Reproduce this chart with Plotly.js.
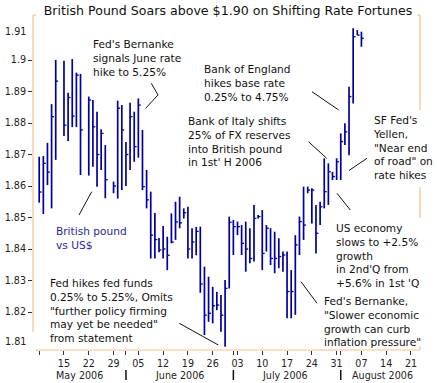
<!DOCTYPE html>
<html><head><meta charset="utf-8">
<script src="https://cdn.plot.ly/plotly-3.0.1.min.js"></script>
<style>html,body{margin:0;padding:0;background:#fff;}#chart{width:437px;height:383px;}</style>
</head><body><div id="chart"></div>
<script>
// ---- data (GBP/USD daily high / low / close) ----
const dates = [
'2006-05-08','2006-05-09','2006-05-10','2006-05-11','2006-05-12',
'2006-05-15','2006-05-16','2006-05-17','2006-05-18','2006-05-19',
'2006-05-22','2006-05-23','2006-05-24','2006-05-25','2006-05-26',
'2006-05-29','2006-05-30','2006-05-31','2006-06-01','2006-06-02',
'2006-06-04','2006-06-05','2006-06-06','2006-06-07','2006-06-08','2006-06-09',
'2006-06-11','2006-06-12','2006-06-13','2006-06-14','2006-06-15','2006-06-16',
'2006-06-18','2006-06-19','2006-06-20','2006-06-21','2006-06-22','2006-06-23',
'2006-06-25','2006-06-26','2006-06-27','2006-06-28','2006-06-29','2006-06-30',
'2006-07-02','2006-07-03','2006-07-04','2006-07-05','2006-07-06','2006-07-07',
'2006-07-09','2006-07-10','2006-07-11','2006-07-12','2006-07-13','2006-07-14',
'2006-07-16','2006-07-17','2006-07-18','2006-07-19','2006-07-20','2006-07-21',
'2006-07-23','2006-07-24','2006-07-25','2006-07-26','2006-07-27','2006-07-28',
'2006-07-30','2006-07-31','2006-08-01','2006-08-02','2006-08-03','2006-08-04',
'2006-08-06','2006-08-07'];
const highs = [
1.8693,1.8695,1.8737,1.8860,1.9000,
1.8998,1.8896,1.9003,1.8960,1.8956,
1.8884,1.8873,1.8836,1.8780,1.8730,
1.8614,1.8871,1.8857,1.8740,1.8864,
1.8836,1.8878,1.8778,1.8651,1.8582,1.8514,
1.8435,1.8473,1.8439,1.8513,1.8550,1.8566,
1.8529,1.8534,1.8466,1.8470,1.8471,1.8344,
1.8312,1.8280,1.8264,1.8254,1.8302,1.8503,
1.8492,1.8487,1.8476,1.8487,1.8466,1.8540,
1.8508,1.8524,1.8476,1.8466,1.8455,1.8434,
1.8392,1.8392,1.8333,1.8444,1.8503,1.8598,
1.8598,1.8593,1.8540,1.8550,1.8688,1.8672,
1.8645,1.8688,1.8767,1.8799,1.8915,1.9101,
1.9095,1.9090];
const lows = [
1.8547,1.8511,1.8603,1.8529,1.8683,
1.8759,1.8743,1.8787,1.8787,1.8635,
1.8633,1.8661,1.8598,1.8651,1.8561,
1.8577,1.8560,1.8587,1.8600,1.8651,
1.8677,1.8690,1.8587,1.8529,1.8370,1.8370,
1.8390,1.8370,1.8333,1.8418,1.8429,1.8466,
1.8497,1.8370,1.8370,1.8380,1.8261,1.8127,
1.8169,1.8164,1.8206,1.8137,1.8090,1.8275,
1.8381,1.8444,1.8381,1.8328,1.8355,1.8360,
1.8497,1.8333,1.8392,1.8349,1.8323,1.8339,
1.8328,1.8180,1.8180,1.8191,1.8381,1.8429,
1.8577,1.8481,1.8386,1.8476,1.8529,1.8540,
1.8619,1.8619,1.8619,1.8730,1.8698,1.8862,
1.9079,1.9042];
const closes = [
1.8581,1.8672,1.8644,1.8820,1.8933,
1.8793,1.8881,1.8822,1.8952,1.8778,
1.8873,1.8788,1.8700,1.8767,1.8620,
1.8600,1.8847,1.8778,1.8700,1.8820,
1.8725,1.8857,1.8598,1.8556,1.8444,1.8430,
1.8397,1.8400,1.8380,1.8422,1.8486,1.8483,
1.8515,1.8400,1.8422,1.8456,1.8289,1.8190,
1.8196,1.8220,1.8222,1.8190,1.8275,1.8485,
1.8471,1.8471,1.8418,1.8400,1.8370,1.8497,
1.8503,1.8386,1.8466,1.8370,1.8370,1.8376,
1.8381,1.8265,1.8265,1.8413,1.8487,1.8476,
1.8587,1.8587,1.8450,1.8534,1.8582,1.8645,
1.8630,1.8677,1.8741,1.8772,1.8884,1.9074,
1.9079,1.9069];

// ---- axis labels ----
const tickDates = ['2006-05-08','2006-05-15','2006-05-22','2006-05-29','2006-06-05','2006-06-12','2006-06-19','2006-06-26',
  '2006-07-03','2006-07-10','2006-07-17','2006-07-24','2006-07-31','2006-08-07','2006-08-14','2006-08-21'];
const tickLabels = ['','15','22','29','05','12','19','26','03','10','17','24','31','07','14','21'];
const monthStarts = ['2006-06-01','2006-07-01','2006-08-01'];
const monthNames = ['May 2006','June 2006','July 2006','August 2006'];
const yTicks = [1.82,1.83,1.84,1.85,1.86,1.87,1.88,1.89,1.90];
const yTickLabels = ['1.82','1.83','1.84','1.85','1.86','1.87','1.88','1.89','1.9'];
const yEdgeValues = [1.91, 1.81];
const yEdgeLabels = ['1.91', '1.81'];

const titleText = 'British Pound Soars above $1.90 on Shifting Rate Fortunes';
const notes = [
  {text:"Fed's Bernanke<br>signals June rate<br>hike to 5.25%", px:91, py:36, color:'#111'},
  {text:"Bank of England<br>hikes base rate<br>0.25% to 4.75%", px:202, py:61, color:'#111'},
  {text:"Bank of Italy shifts<br>25% of FX reserves<br>into British pound<br>in 1st' H 2006", px:185.5, py:113, color:'#111'},
  {text:"SF Fed's<br>Yellen,<br>\"Near end<br>of road\" on<br>rate hikes", px:371, py:112, color:'#111'},
  {text:"US economy<br>slows to +2.5%<br>growth<br>in 2nd'Q from<br>+5.6% in 1st 'Q", px:333.5, py:220, color:'#111'},
  {text:"Fed's Bernanke,<br>\"Slower economic<br>growth can curb<br>inflation pressure\"", px:322, py:293, color:'#111'},
  {text:"British pound<br>vs US$", px:54, py:223, color:'#2b1fa0'},
  {text:"Fed hikes fed funds<br>0.25% to 5.25%, Omits<br>\"further policy firming<br>may yet be needed\"<br>from statement", px:48, py:275, color:'#111'}
];
const pointers = [
  [[151.3,83.3],[158,95],[145.7,108.3]],
  [[312,91.7],[338.7,110]],
  [[308.5,141.7],[326.7,158.3]],
  [[367,158.3],[349,170.5]],
  [[337,193.3],[350.3,210]],
  [[301,281.7],[317,303.3]],
  [[79,215],[91.7,191.7]],
  [[179.3,323.3],[218.3,345]]
];

// ---- layout geometry ----
const W=437,H=383,L=33,R=17,T=15,B=33;
const PW=W-L-R, PH=H-T-B;
const fx = px => (px-L)/PW;
const fy = py => (H-B-py)/PH;
const xRange = ['2006-05-05 12:00','2006-08-23 04:20'];
const yRange = [1.80794, 1.91429];
const BAR = '#0000a0', FRAME = '#f9c18b', FONT = 'DejaVu Sans, Verdana, sans-serif';

// ---- traces ----
const bx=[], by=[], cx=[], cy=[];
dates.forEach((d,i)=>{
  bx.push(d,d,null); by.push(lows[i],highs[i],null);
  cx.push(d,d+' 14:00',null); cy.push(closes[i],closes[i],null);
});
const traces = [
  {type:'scatter',mode:'lines',x:bx,y:by,line:{color:BAR,width:1.7},hoverinfo:'skip',showlegend:false},
  {type:'scatter',mode:'lines',x:cx,y:cy,line:{color:BAR,width:1.3},hoverinfo:'skip',showlegend:false}
];

// month boundaries (Saturday -> following Sunday, Saturdays are removed from the axis)
const monthPos = monthStarts.map(s=>{
  const t = new Date(s+'T00:00:00Z');
  if (t.getUTCDay()===6) t.setUTCDate(t.getUTCDate()+1);
  return t.toISOString().slice(0,10);
});
const allTickVals = tickDates.concat(monthPos);
const allTickText = tickLabels.concat(monthPos.map(()=>''));

const shapes = [];
const frameLine = (x0,y0,x1,y1)=>({type:'line',xref:'paper',yref:'paper',x0,y0,x1,y1,line:{color:FRAME,width:1.2},layer:'above'});
shapes.push(frameLine(0,fy(332),0,1));          // left
shapes.push(frameLine(fx(35),0,1,0));          // bottom
shapes.push(frameLine(1,fy(110),1,1));         // right, top part
shapes.push(frameLine(1,fy(218),1,fy(187)));   // right, middle
shapes.push(frameLine(1,0,1,fy(346)));         // right, bottom stub
shapes.push(frameLine(0,1,fx(36),1));          // top stubs
shapes.push(frameLine(fx(417),1,1,1));
pointers.forEach(p=>{
  const path = p.map((pt,k)=>(k?'L':'M')+fx(pt[0]).toFixed(4)+','+fy(pt[1]).toFixed(4)).join(' ');
  shapes.push({type:'path',xref:'paper',yref:'paper',path,line:{color:'#111',width:1},layer:'above'});
});
monthPos.forEach(m=>{
  shapes.push({type:'line',xref:'x',yref:'paper',x0:m,x1:m,y0:fy(370),y1:fy(380),line:{color:'#111',width:1.5}});
});

const annotations = [];
notes.forEach(n=>annotations.push({xref:'paper',yref:'paper',x:fx(n.px),y:fy(n.py),xanchor:'left',yanchor:'top',
  align:'left',showarrow:false,text:n.text,font:{family:FONT,size:10.6,color:n.color}}));
// month labels centred between month boundaries (clipped to the plotted range)
const bounds = [xRange[0]].concat(monthStarts).concat([xRange[1]]).map(s=>new Date(s.replace(' ','T')+(s.length>10?':00Z':'T00:00:00Z')).getTime());
monthNames.forEach((name,i)=>{
  const mid = new Date((bounds[i]+bounds[i+1])/2).toISOString().replace('T',' ').slice(0,16);
  annotations.push({xref:'x',yref:'paper',x:mid,y:fy(375.5),xanchor:'center',yanchor:'middle',showarrow:false,
    text:name,font:{family:FONT,size:9.6,color:'#222'}});
});
yEdgeValues.forEach((v,i)=>annotations.push({xref:'paper',yref:'y',x:fx(28),y:v,xanchor:'right',yanchor:'middle',
  yshift: i===0?-2.5:2.5, showarrow:false,text:yEdgeLabels[i],font:{family:FONT,size:9.6,color:'#222'}}));

const layout = {
  width:W,height:H,margin:{l:L,r:R,t:T,b:B,pad:0},
  paper_bgcolor:'#fff',plot_bgcolor:'#fff',showlegend:false,
  title:{text:titleText,font:{family:FONT,size:12.6,color:'#111'},x:228/W,xref:'container',xanchor:'center',
    y:1-11/H,yref:'container',yanchor:'middle'},
  xaxis:{type:'date',range:xRange,rangebreaks:[{bounds:['sat','sun']}],showgrid:false,zeroline:false,showline:false,
    tickmode:'array',tickvals:allTickVals,ticktext:allTickText,ticks:'outside',ticklen:4,tickcolor:'#333',tickwidth:1,
    tickfont:{family:FONT,size:9.6,color:'#222'},fixedrange:true},
  yaxis:{range:yRange,showgrid:false,zeroline:false,showline:false,tickmode:'array',tickvals:yTicks,ticktext:yTickLabels,
    ticks:'outside',ticklen:4,tickcolor:'#333',tickwidth:1,tickfont:{family:FONT,size:9.6,color:'#222'},fixedrange:true},
  shapes,annotations
};
Plotly.newPlot('chart',traces,layout,{staticPlot:true,displayModeBar:false});
</script></body></html>
